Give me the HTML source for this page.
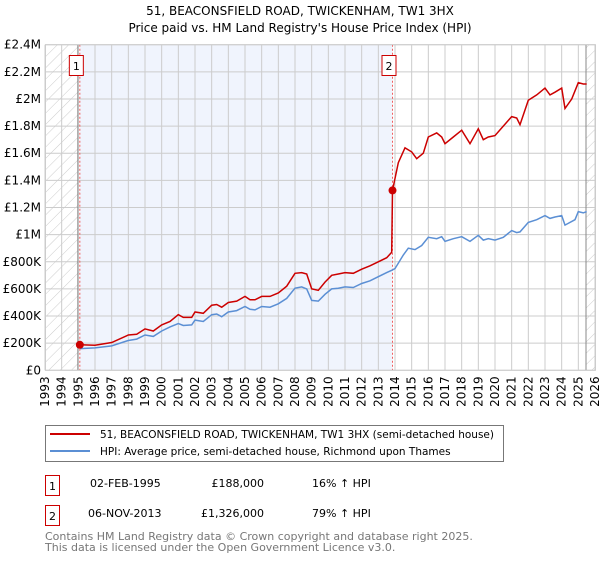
<!DOCTYPE html>
<html><head><meta charset="utf-8"><style>
body{margin:0;background:#fff;font-family:"Liberation Sans","DejaVu Sans",sans-serif;}
svg text{font-family:"DejaVu Sans","Liberation Sans",sans-serif;}
</style></head><body>
<svg id="chart" width="600" height="560" xmlns="http://www.w3.org/2000/svg">
<defs><pattern id="hatch" patternUnits="userSpaceOnUse" width="8" height="8" patternTransform="rotate(45)"><line x1="0" y1="0" x2="0" y2="8" stroke="#ccc" stroke-width="1"/></pattern></defs>
<text x="300" y="15" font-size="12" text-anchor="middle">51, BEACONSFIELD ROAD, TWICKENHAM, TW1 3HX</text>
<text x="300" y="32" font-size="12" text-anchor="middle">Price paid vs. HM Land Registry's House Price Index (HPI)</text>
<g id="plot"></g>
<rect x="45.5" y="425.5" width="458" height="36" fill="#fff" stroke="#777"/>
<line x1="50" y1="434" x2="90" y2="434" stroke="#cc0000" stroke-width="2"/>
<text x="100" y="438" font-size="10.5">51, BEACONSFIELD ROAD, TWICKENHAM, TW1 3HX (semi-detached house)</text>
<line x1="50" y1="451" x2="90" y2="451" stroke="#5b8fd4" stroke-width="2"/>
<text x="100" y="455" font-size="10.5">HPI: Average price, semi-detached house, Richmond upon Thames</text>
<g font-size="11">
<rect x="45.5" y="475.5" width="14" height="20" fill="#fff" stroke="#cc0000"/><text x="52.5" y="490" text-anchor="middle">1</text>
<text x="90" y="487">02-FEB-1995</text><text x="264" y="487" text-anchor="end">£188,000</text><text x="312" y="487">16% ↑ HPI</text></g>
<g font-size="11">
<rect x="45.5" y="505.5" width="14" height="20" fill="#fff" stroke="#cc0000"/><text x="52.5" y="520" text-anchor="middle">2</text>
<text x="88" y="517">06-NOV-2013</text><text x="264" y="517" text-anchor="end">£1,326,000</text><text x="312" y="517">79% ↑ HPI</text></g>
<text x="45" y="540" font-size="11" fill="#777">Contains HM Land Registry data © Crown copyright and database right 2025.</text>
<text x="45" y="551" font-size="11" fill="#777">This data is licensed under the Open Government Licence v3.0.</text>
</svg>
<script>
const yTicks=[0,200000,400000,600000,800000,1000000,1200000,1400000,1600000,1800000,2000000,2200000,2400000];
const yTickLabels=["£0","£200K","£400K","£600K","£800K","£1M","£1.2M","£1.4M","£1.6M","£1.8M","£2M","£2.2M","£2.4M"];
const xYears=[1993,1994,1995,1996,1997,1998,1999,2000,2001,2002,2003,2004,2005,2006,2007,2008,2009,2010,2011,2012,2013,2014,2015,2016,2017,2018,2019,2020,2021,2022,2023,2024,2025,2026];
const hpiDates=[1995.1,1996,1997,1998,1998.5,1999,1999.5,2000,2000.5,2001,2001.3,2001.8,2002,2002.5,2003,2003.3,2003.6,2004,2004.5,2005,2005.3,2005.6,2006,2006.5,2007,2007.5,2008,2008.4,2008.7,2009,2009.4,2009.8,2010.2,2010.6,2011,2011.5,2012,2012.5,2013,2013.5,2013.85,2014,2014.5,2014.8,2015.2,2015.6,2016,2016.5,2016.8,2017,2017.5,2018,2018.5,2019,2019.3,2019.6,2020,2020.5,2021,2021.3,2021.5,2022,2022.5,2023,2023.3,2023.6,2024,2024.2,2024.8,2025,2025.3,2025.5];
const hpiValues=[160,165,180,220,230,260,250,290,320,345,330,335,370,360,410,415,395,430,440,470,450,445,470,465,490,530,605,615,600,515,510,560,600,605,615,610,640,660,690,720,740,750,850,900,890,920,980,970,985,950,970,985,950,995,960,970,960,980,1030,1015,1020,1090,1110,1140,1120,1130,1140,1070,1110,1170,1160,1170];
const priceDates=[1995.09,1996,1997,1998,1998.5,1999,1999.5,2000,2000.5,2001,2001.3,2001.8,2002,2002.5,2003,2003.3,2003.6,2004,2004.5,2005,2005.3,2005.6,2006,2006.5,2007,2007.5,2008,2008.4,2008.7,2009,2009.4,2009.8,2010.2,2010.6,2011,2011.5,2012,2012.5,2013,2013.5,2013.8,2013.85,2014.2,2014.6,2015,2015.3,2015.7,2016,2016.5,2016.8,2017,2017.5,2018,2018.5,2019,2019.3,2019.6,2020,2020.5,2021,2021.3,2021.5,2022,2022.5,2023,2023.3,2023.6,2024,2024.2,2024.6,2025,2025.3,2025.5];
const priceValues=[188,185,205,260,265,305,290,335,360,410,390,390,430,420,480,485,465,500,510,545,520,520,545,545,570,620,715,720,710,600,590,650,700,710,720,715,745,770,800,830,870,1326,1530,1640,1610,1560,1600,1720,1750,1720,1670,1720,1770,1670,1780,1700,1720,1730,1800,1870,1860,1810,1990,2030,2080,2030,2050,2080,1930,2000,2120,2110,2110];
const saleDates=[1995.09,2013.85];
const saleValues=[188000,1326000];
const saleLabels=["1","2"];
const X0=45,X1=595,Y0=370.3,Y1=44.7;
const xs=y=>X0+(y-1993)/(2026-1993)*(X1-X0);
const ys=v=>Y0-v/2400000*(Y0-Y1);
const NS="http://www.w3.org/2000/svg";
const g=document.getElementById('plot');
function mk(t,a,p){const e=document.createElementNS(NS,t);for(const k in a)e.setAttribute(k,a[k]);(p||g).appendChild(e);return e;}
let e;
e=mk('rect',{x:X0,y:Y1,width:X1-X0,height:Y0-Y1,fill:'#fff'});


e=mk('rect',{x:xs(saleDates[0]),y:Y1,width:xs(saleDates[1])-xs(saleDates[0]),height:Y0-Y1,fill:'#f0f4fd'});


e=mk('rect',{x:X0,y:Y1,width:xs(saleDates[0])-X0,height:Y0-Y1,fill:'url(#hatch)'});


e=mk('rect',{x:xs(2025.46),y:Y1,width:X1-xs(2025.46),height:Y0-Y1,fill:'url(#hatch)'});


yTicks.forEach((v,i)=>{
 e=mk('line',{x1:X0,x2:X1,y1:ys(v),y2:ys(v),stroke:'#ccc','stroke-width':1});
 
 
 e=mk('text',{x:X0-4,y:ys(v)+4,'font-size':12,'text-anchor':'end'});e.textContent=yTickLabels[i];
 
 
});
xYears.forEach(yr=>{
 e=mk('line',{x1:xs(yr),x2:xs(yr),y1:Y1,y2:Y0,stroke:'#ccc','stroke-width':1});
 
 
 e=mk('text',{x:0,y:0,'font-size':12,'text-anchor':'end',transform:`translate(${xs(yr)+4},${Y0+6}) rotate(-90)`});e.textContent=yr;
 
 
});
e=mk('line',{x1:xs(saleDates[0])-2,x2:xs(saleDates[0])-2,y1:Y1,y2:Y0,stroke:'#888','stroke-width':1});


e=mk('line',{x1:xs(2025.46),x2:xs(2025.46),y1:Y1,y2:Y0,stroke:'#888','stroke-width':1});


saleDates.forEach((d,i)=>{
 e=mk('line',{x1:xs(d),x2:xs(d),y1:Y1,y2:Y0,stroke:'#f06060','stroke-width':1,'stroke-dasharray':'2,2'});
 
 
 e=mk('rect',{x:xs(d)-10.5,y:55.5,width:14,height:20,fill:'#fff',stroke:'#cc0000'});
 
 
 e=mk('text',{x:xs(d)-3.5,y:70,'font-size':11,'text-anchor':'middle'});e.textContent=saleLabels[i];
 
 
});
function path(dates,vals){return dates.map((d,i)=>(i?'L':'M')+xs(d).toFixed(1)+','+ys(vals[i]*1000).toFixed(1)).join('');}
e=mk('path',{d:path(hpiDates,hpiValues),fill:'none',stroke:'#5b8fd4','stroke-width':1.5});


e=mk('path',{d:path(priceDates,priceValues),fill:'none',stroke:'#cc0000','stroke-width':1.5});


saleDates.forEach((d,i)=>{
 e=mk('circle',{cx:xs(d),cy:ys(saleValues[i]),r:4,fill:'#cc0000'});
 
 
});
e=mk('rect',{x:X0+0.5,y:Y1,width:X1-X0,height:Y0-Y1,fill:'none',stroke:'#ccc'});


</script>
</body></html>
